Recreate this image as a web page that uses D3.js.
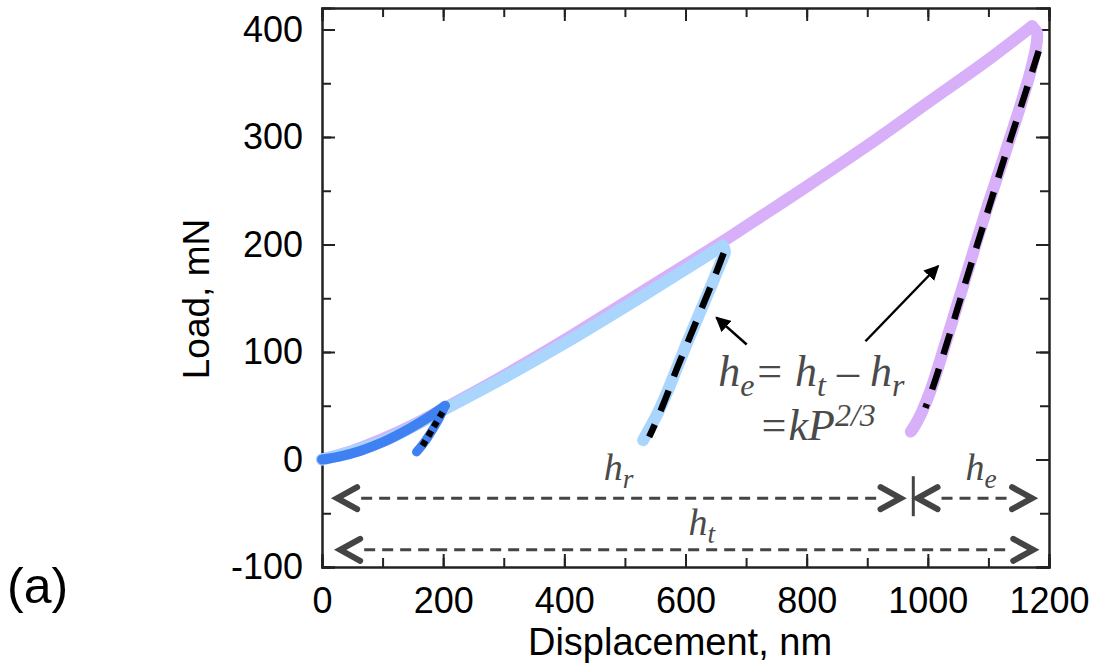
<!DOCTYPE html>
<html lang="en">
<head>
<meta charset="UTF-8">
<title>Load - displacement</title>
<style>
  body, html { margin: 0; background: #fff; }
  svg { display: block; }
  .axis text { font-family: "Liberation Sans", Arial, sans-serif; font-size: 36px; fill: #000; }
  .axis path, .axis line { stroke: #222; stroke-width: 2px; }
  .note { font-family: "Liberation Serif", "Times New Roman", serif; font-style: italic; fill: #4a4a4a; }
</style>
</head>
<body>
<svg width="1094" height="671"></svg>
<script src="https://d3js.org/d3.v7.min.js"></script>
<script>
// data: [displacement nm, load mN]
const loadPurple = [[0,0],[50,8],[100,19],[150,32],[200,47],[300,78],[400,111],[500,146],[600,181],[662,203],[700,217],[800,254],[900,292],[1000,332],[1100,372],[1172,403]];
const unloadPurple = [[1172,403],[1180,397],[1179,385],[1170,362],[1155,333],[1138,303],[1120,272],[1100,238],[1080,202],[1060,165],[1040,128],[1022,95],[1005,65],[990,44],[978,31],[972,26]];
const loadBlue = [[0,0],[100,17],[200,46],[300,76],[400,108],[500,142],[600,177],[662,199]];
const unloadBlue = [[662,199],[665,193],[658,183],[645,165],[630,145],[615,125],[600,105],[585,84],[570,63],[555,44],[540,28],[530,18]];
const loadDark = [[0,0],[30,3],[63,8],[100,16],[145,29],[175,39],[203,50]];
const unloadDark = [[203,50],[195,40],[185,30],[175,21],[165,13],[156,7]];
const fitPurple = [[1183,380],[1165,348],[1145,313],[1125,278],[1105,242],[1085,206],[1065,170],[1045,133],[1027,100],[1010,70],[996,48]];
const fitBlue = [[663,192],[648,170],[632,148],[616,126],[600,104],[584,82],[568,58],[552,36],[540,21]];
const fitDark = [[199,44],[182,28],[165,12]];

const xTicks = [0,200,400,600,800,1000,1200];
const yTicks = [-100,0,100,200,300,400];

// annotation anchors (data units)
const hrY = -36, htY = -84;
const hLeft = 25, hBar = 976, hPeak = 1172;
const noteArrows = [[[701,107],[651,132]], [[897,110],[1017,180]]];

const svg = d3.select("svg");
const x = d3.scaleLinear().domain([0, 1200]).range([322, 1049]);
const y = d3.scaleLinear().domain([-100, 420]).range([567, 8]);
const fmt = d => String(d);

const defs = svg.append("defs");
defs.append("marker").attr("id", "head")
  .attr("viewBox", "0 0 10 10").attr("refX", 9).attr("refY", 5)
  .attr("markerWidth", 6).attr("markerHeight", 6).attr("orient", "auto")
  .attr("markerUnits", "strokeWidth")
  .append("path").attr("d", "M0,0 L10,5 L0,10 z").attr("fill", "#000");

// axes with inward ticks on all four sides
const minorX = d3.range(0, 1201, 100), minorY = d3.range(-100, 421, 50);
svg.append("g").attr("class", "axis").attr("transform", `translate(0,${y(-100)})`)
  .call(d3.axisBottom(x).tickValues(minorX).tickSize(-9).tickFormat(""));
svg.append("g").attr("class", "axis").attr("transform", `translate(0,${y(-100)})`)
  .call(d3.axisBottom(x).tickValues(xTicks).tickSize(-13).tickPadding(20).tickFormat(fmt));
svg.append("g").attr("class", "axis").attr("transform", `translate(0,${y(420)})`)
  .call(d3.axisTop(x).tickValues(minorX).tickSize(-9).tickFormat(""));
svg.append("g").attr("class", "axis").attr("transform", `translate(0,${y(420)})`)
  .call(d3.axisTop(x).tickValues(xTicks).tickSize(-13).tickFormat(""));
svg.append("g").attr("class", "axis").attr("transform", `translate(${x(0)},0)`)
  .call(d3.axisLeft(y).tickValues(minorY).tickSize(-9).tickFormat(""));
svg.append("g").attr("class", "axis").attr("transform", `translate(${x(0)},0)`)
  .call(d3.axisLeft(y).tickValues(yTicks).tickSize(-13).tickPadding(19).tickFormat(fmt));
svg.append("g").attr("class", "axis").attr("transform", `translate(${x(1200)},0)`)
  .call(d3.axisRight(y).tickValues(minorY).tickSize(-9).tickFormat(""));
svg.append("g").attr("class", "axis").attr("transform", `translate(${x(1200)},0)`)
  .call(d3.axisRight(y).tickValues(yTicks).tickSize(-13).tickFormat(""));

const line = d3.line().x(d => x(d[0])).y(d => y(d[1])).curve(d3.curveCatmullRom);

function curve(data, color, w, dash) {
  const p = svg.append("path").datum(data).attr("d", line)
    .attr("fill", "none").attr("stroke", color).attr("stroke-width", w)
    .attr("stroke-linejoin", "round");
  if (dash) p.attr("stroke-dasharray", dash).attr("stroke-linecap", "butt");
  else p.attr("stroke-linecap", "round");
}

curve(loadPurple, "#d7b0f9", 12);
curve(unloadPurple, "#d7b0f9", 12);
curve(loadBlue, "#aad5fc", 12);
curve(unloadBlue, "#aad5fc", 12);
curve(loadDark, "#3f80f2", 10);
curve(unloadDark, "#3f80f2", 9);
curve(fitPurple, "#000", 6.5, "22,15");
curve(fitBlue, "#000", 6.5, "22,15");
curve(fitDark, "#000", 6.5, "6,5");

// pointer arrows
noteArrows.forEach(a => {
  svg.append("line")
    .attr("x1", x(a[0][0])).attr("y1", y(a[0][1]))
    .attr("x2", x(a[1][0])).attr("y2", y(a[1][1]))
    .attr("stroke", "#000").attr("stroke-width", 2.5)
    .attr("marker-end", "url(#head)");
});

// dashed dimension arrows
const gray = "#444";
function dim(x1, x2, yv) {
  const yy = y(yv);
  svg.append("line").attr("x1", x(x1) + 24).attr("x2", x(x2) - 24)
    .attr("y1", yy).attr("y2", yy)
    .attr("stroke", gray).attr("stroke-width", 3).attr("stroke-dasharray", "11,7");
  const chev = (tip, dir) => svg.append("polyline")
    .attr("points", [[tip - dir * 20, yy - 11], [tip, yy], [tip - dir * 20, yy + 11]].join(" "))
    .attr("fill", "none").attr("stroke", gray).attr("stroke-width", 6)
    .attr("stroke-linecap", "round").attr("stroke-linejoin", "miter");
  chev(x(x1), -1);
  chev(x(x2), 1);
}
dim(hLeft, hBar - 21, hrY);
dim(hBar + 7, hPeak, hrY);
dim(hLeft + 5, hPeak + 2, htY);
svg.append("line").attr("x1", x(hBar)).attr("x2", x(hBar))
  .attr("y1", y(hrY) - 22).attr("y2", y(hrY) + 18)
  .attr("stroke", gray).attr("stroke-width", 3);

// italic labels
function hLabel(px, py, sub, size) {
  const t = svg.append("text").attr("class", "note").attr("x", x(px)).attr("y", y(py))
    .attr("font-size", size);
  t.append("tspan").text("h");
  t.append("tspan").attr("dy", size * 0.22).attr("font-size", size * 0.72).text(sub);
}
hLabel(465, -19, "r", 38);
hLabel(1062, -19, "e", 38);
hLabel(605, -70, "t", 38);

const f = svg.append("text").attr("class", "note").attr("x", x(654)).attr("y", y(68)).attr("font-size", 44);
f.append("tspan").text("h");
f.append("tspan").attr("dy", 10).attr("font-size", 32).text("e");
f.append("tspan").attr("dy", -10).text("= h");
f.append("tspan").attr("dy", 10).attr("font-size", 32).text("t");
f.append("tspan").attr("dy", -10).text(" \u2013 h");
f.append("tspan").attr("dy", 10).attr("font-size", 32).text("r");

const g2 = svg.append("text").attr("class", "note").attr("x", x(721)).attr("y", y(18)).attr("font-size", 44);
g2.append("tspan").text("=kP");
g2.append("tspan").attr("dy", -14).attr("font-size", 32).text("2/3");

// axis titles and panel label
const sans = "'Liberation Sans', Arial, sans-serif";
svg.append("text").attr("x", 680).attr("y", 655).attr("text-anchor", "middle")
  .attr("font-family", sans).attr("font-size", 38).text("Displacement, nm");
svg.append("text").attr("transform", "translate(209,299) rotate(-90)").attr("text-anchor", "middle")
  .attr("font-family", sans).attr("font-size", 37).text("Load, mN");
svg.append("text").attr("x", 7).attr("y", 603)
  .attr("font-family", sans).attr("font-size", 50).text("(a)");
</script>
</body>
</html>
